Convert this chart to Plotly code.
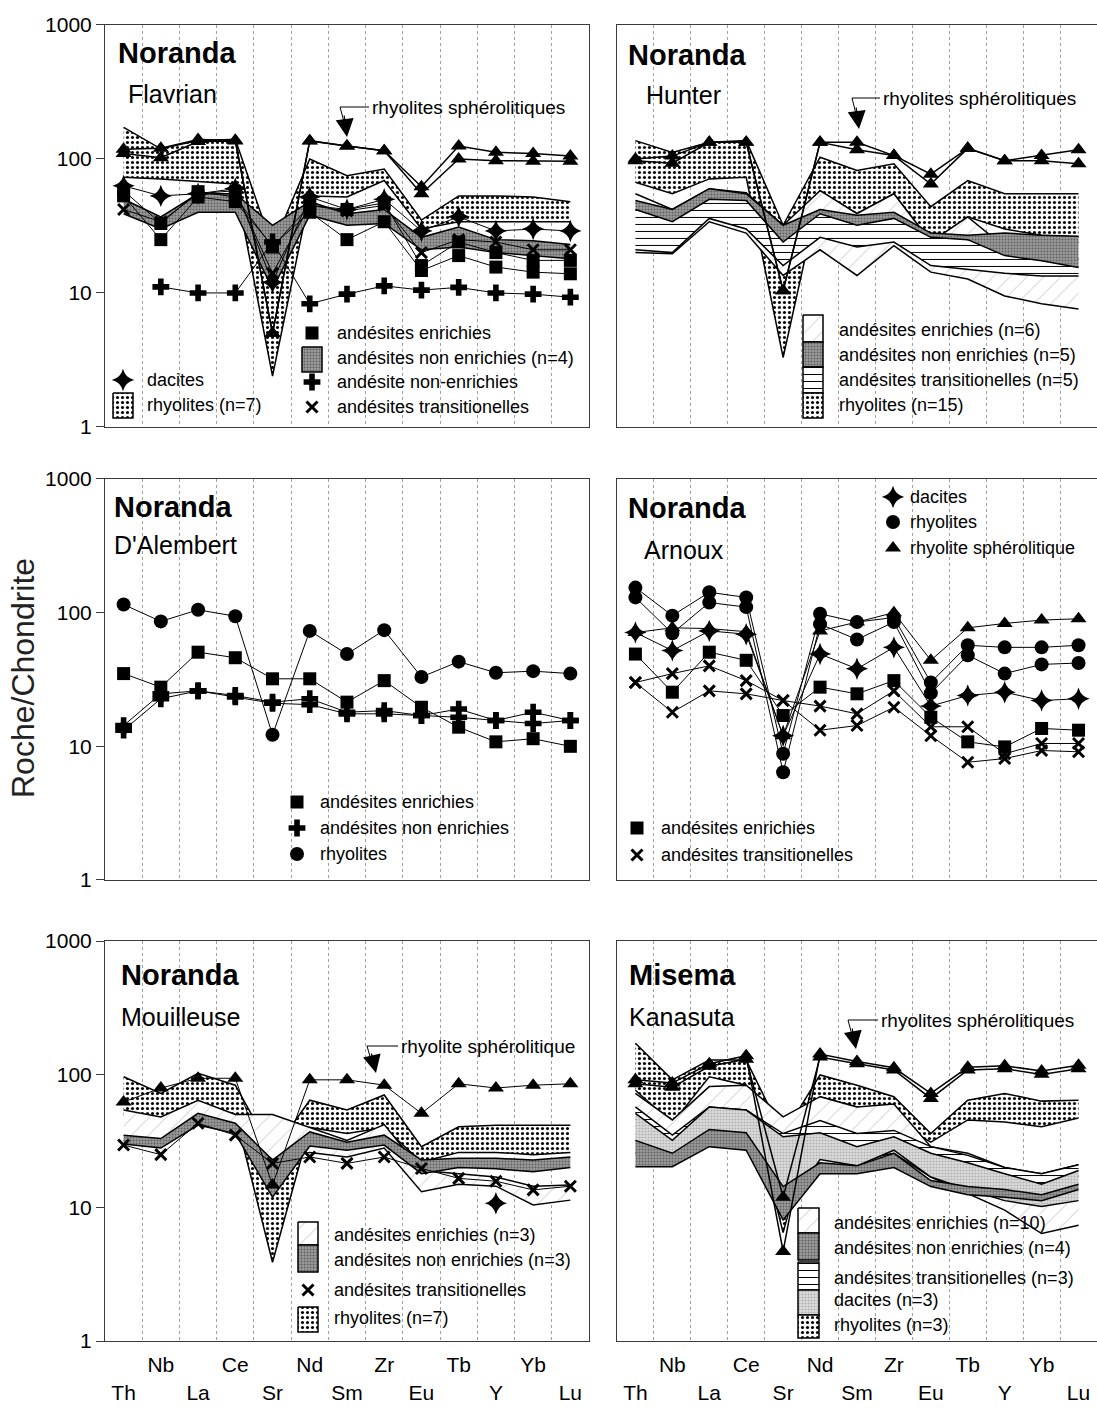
import plotly.graph_objects as go

# ---------------------------------------------------------------- data
ELEMENTS = ["Th", "Nb", "La", "Ce", "Sr", "Nd", "Sm", "Zr", "Eu", "Tb", "Y", "Yb", "Lu"]
ELEMENT_LABELS = ["\u00a0<br>Th", "Nb", "\u00a0<br>La", "Ce", "\u00a0<br>Sr", "Nd", "\u00a0<br>Sm",
                  "Zr", "\u00a0<br>Eu", "Tb", "\u00a0<br>Y", "Yb", "\u00a0<br>Lu"]
Y_TICKS = [1, 10, 100, 1000]
Y_TICK_TEXT = ["1", "10", "100", "1000"]

# Noranda - Flavrian
FLA_SPHER_A = [118, 120, 140, 138, 5, 137, 125, 115, 62, 125, 112, 110, 105]
FLA_SPHER_B = [110, 102, 135, 136, 5, 136, 125, 115, 55, 100, 97, 96, 96]
FLA_RHY_UP = [172, 119, 137, 140, 22, 100, 75, 84, 35, 53, 53, 52, 48]
FLA_RHY_LO = [73, 71, 68, 65, 2.4, 53, 52, 69, 30, 34, 34, 34, 34]
FLA_NONENR_UP = [50, 37, 55, 55, 32, 48, 39, 42, 26, 31, 25, 24.5, 23]
FLA_NONENR_LO = [39, 30, 40, 40, 10.7, 38, 32, 33, 21, 22, 20, 19, 18]
FLA_DACITE = [63, 53, 55, 60, 12, 52, 42, 50, 29, 37, 29, 30, 29]
FLA_ENR_A = [53, 25, 52, 48, 22.5, 40, 25, 34, 14.7, 19, 15.6, 14.3, 13.9]
FLA_ENR_B = [58, 33, 57, 52, 22, 45, 42, 47, 16, 24, 20, 17.5, 17.5]
FLA_NONENR_1 = [None, 11.1, 10, 10, 24, 8.3, 9.8, 11.3, 10.5, 11, 10, 9.8, 9.3]
FLA_TRANS = [42, 34, 55, 58, 14, 45, 41, 45, 20, 25, 24, 21, 21]

# Noranda - Hunter
HUN_SPHER_A = [100, 105, 133, 133, 10.4, 133, 133, 106, 65, 120, 97, 106, 117]
HUN_SPHER_B = [97, 93, 133, 133, 10.4, 133, 117, 106, 77, 120, 97, 97, 92]
HUN_RHY_UP = [137, 112, 133, 137, 32, 103, 82, 92, 44, 69, 55, 55, 55]
HUN_RHY_LO = [67, 55, 71, 73, 3.3, 58, 39, 55, 24, 37, 30, 27, 26]
HUN_NONENR_UP = [49, 42, 60, 55, 32, 42, 38, 40, 28, 27, 28, 27, 26.5]
HUN_NONENR_LO = [42, 34, 50, 49, 24, 39, 32, 36, 26, 25, 19, 17.4, 15.5]
HUN_TRANS_UP = [47, 36, 55, 50, 30, 42, 36, 38, 27, 25, 20, 18, 18]
HUN_TRANS_LO = [21, 20, 36, 30, 16, 26, 22, 24, 16, 15, 14, 13.4, 13.4]
HUN_ENR_UP = [55, 42, 60, 56, 32, 58, 39, 55, 24, 37, 22, 21, 24]
HUN_ENR_LO = [20, 19.6, 34, 28, 13.5, 21, 13.5, 22.5, 14.3, 12.7, 9.5, 8.3, 7.6]

# Noranda - D'Alembert
DAL_RHY = [115, 86, 105, 94, 12.2, 73, 49, 74, 33, 43, 35.5, 36.5, 35]
DAL_ENR = [35, 27.7, 50.6, 46, 32, 32, 21.4, 31, 19.6, 13.9, 10.8, 11.4, 10]
DAL_NONENR_A = [14.3, 24.7, 26, 24, 21.4, 22.7, 18, 18.5, 17, 19, 15.6, 18, 15.6]
DAL_NONENR_B = [13.2, 22.7, 26, 23.4, 21, 20.5, 17.5, 17.5, 17, 16.5, 15.6, 14.8, 15.6]

# Noranda - Arnoux
ARN_RHY_A = [154, 95, 142, 130, 8.8, 98, 85, 92, 30, 57, 55, 55, 57]
ARN_RHY_B = [130, 70, 119, 110, 6.4, 82, 63, 85, 25, 48, 35, 41, 42]
ARN_SPHER = [71, 77, 76, 72, 12, 73, 85, 100, 44, 77, 83, 88, 90]
ARN_DACITE = [71, 52, 73, 69, 12, 49, 38, 55, 20, 24, 25.4, 22, 22.7]
ARN_ENR = [49, 25.4, 50.6, 44, 17, 27.7, 24.7, 31, 16.5, 10.8, 9.9, 13.6, 13.2]
ARN_TRANS_A = [30, 35, 40, 31, 22, 20, 17.5, 26, 14, 14, 8.8, 10.5, 10.5]
ARN_TRANS_B = [30, 18, 26, 24.7, 22, 13.2, 14.3, 19.6, 12, 7.6, 8.1, 9.3, 9.1]

# Noranda - Mouilleuse
MOU_SPHER = [62, 79, 93.5, 93.5, 14.8, 91, 91, 83, 51, 85, 79, 83, 85]
MOU_RHY_UP = [96, 72, 102, 83, 26, 64, 54, 70, 28.7, 40.5, 41.5, 41.5, 41.5]
MOU_RHY_LO = [50, 35, 60, 50, 3.9, 40, 36, 40, 22, 26, 26, 25, 26]
MOU_NONENR_UP = [35, 33, 51, 43, 22.8, 37, 31, 35, 22.8, 23.5, 23.5, 22.8, 24]
MOU_NONENR_LO = [30, 28, 41.7, 36, 12, 29, 27, 29.5, 18, 20, 19.6, 18.6, 20]
MOU_ENR_UP = [54, 48, 64, 50, 50, 40, 32, 42, 19, 18, 17, 14.5, 14.8]
MOU_ENR_LO = [32, 30, 44, 38, 23, 26, 24, 28, 13.2, 15, 14.5, 10.5, 11.4]
MOU_TRANS = [29.5, 25, 43, 35, 21.5, 24, 21.5, 24, 19.7, 16.6, 15.8, 13.6, 14.5]
MOU_DACITE = [None, None, None, None, None, None, None, None, None, None, 10.8, None, None]

# Misema - Kanasuta
KAN_SPHER_A = [91, 86, 120, 138, 4.7, 142, 125, 112, 72, 113, 116, 106, 117]
KAN_SPHER_B = [85, 80, 115, 130, 12, 135, 120, 108, 66, 108, 110, 100, 110]
KAN_RHY_UP = [171, 91, 128, 128, 35, 99, 83, 68, 36, 64, 72, 63, 64]
KAN_RHY_LO = [76, 43, 96, 83, 6.5, 68, 57, 45, 31, 45.5, 44, 40.5, 47]
KAN_ENR_UP = [72, 45.5, 81, 83, 48, 68, 57, 60, 28.7, 25.6, 20, 18, 21]
KAN_ENR_LO = [34, 27, 40.5, 38.6, 9.6, 28.7, 22.8, 25.6, 17, 12.8, 9.6, 6.4, 7.4]
KAN_TRANS_UP = [57, 35, 57, 54, 36, 45, 36, 38, 28.7, 24.7, 20, 18, 21]
KAN_TRANS_LO = [32, 27, 45.5, 43, 18, 28.7, 25.6, 28.7, 21, 18, 17, 15, 17]
KAN_DAC_UP = [51, 32, 57, 54, 34, 36.5, 28.7, 34, 25.6, 21.7, 18, 15, 19]
KAN_DAC_LO = [25.6, 23, 36.5, 34, 9.2, 23, 20.6, 27, 17, 13.7, 11.3, 10.2, 11.3]
KAN_NONENR_UP = [32, 25.6, 38.6, 36.5, 14.4, 21.7, 20.6, 25.6, 16, 14.4, 13.7, 12.5, 15]
KAN_NONENR_LO = [20.3, 20.3, 28.7, 27, 8.1, 18, 18, 20, 14.4, 12.5, 12, 11.3, 13.7]

# ---------------------------------------------------------------- styles
FONT = "Liberation Sans, Arial, Helvetica, sans-serif"
GRID = "#a0a0a0"
BOX = "#3a3a3a"

STYLE_RHY = dict(fillcolor="white",
                 fillpattern=dict(shape=".", fgcolor="black", bgcolor="white", size=5, solidity=0.3))
STYLE_NONENR = dict(fillcolor="#8a8a8a",
                    fillpattern=dict(shape=".", fgcolor="#5e5e5e", bgcolor="#9c9c9c", size=3, solidity=0.35))
STYLE_ENR = dict(fillcolor="white",
                 fillpattern=dict(shape="/", fgcolor="#c4c4c4", bgcolor="white", size=12, solidity=0.08))
STYLE_TRANS = dict(fillcolor="white",
                   fillpattern=dict(shape="-", fgcolor="black", bgcolor="white", size=7, solidity=0.15))
STYLE_DAC = dict(fillcolor="#d8d8d8",
                 fillpattern=dict(shape=".", fgcolor="#b0b0b0", bgcolor="#dedede", size=3, solidity=0.4))

MARKERS = {
    "tri": dict(symbol="triangle-up", size=14),
    "sq": dict(symbol="square", size=13),
    "circ": dict(symbol="circle", size=14),
    "plus": dict(symbol="cross", size=14),
    "x": dict(symbol="x-thin", size=11, line=dict(width=3, color="black")),
    "star": dict(symbol="star-diamond", size=16),
}

fig = go.Figure()


def axes(i):
    s = "" if i == 1 else str(i)
    return "x" + s, "y" + s


def add_line(panel, values, marker, width=1.0):
    xa, ya = axes(panel)
    m = dict(color="black", **MARKERS[marker])
    fig.add_trace(go.Scatter(x=ELEMENTS, y=values, mode="lines+markers",
                             line=dict(color="black", width=width), marker=m,
                             xaxis=xa, yaxis=ya, showlegend=False, hoverinfo="skip"))


def add_band(panel, lower, upper, style):
    xa, ya = axes(panel)
    fig.add_trace(go.Scatter(x=ELEMENTS, y=lower, mode="lines",
                             line=dict(color="black", width=1.5),
                             xaxis=xa, yaxis=ya, showlegend=False, hoverinfo="skip"))
    fig.add_trace(go.Scatter(x=ELEMENTS, y=upper, mode="lines", fill="tonexty",
                             line=dict(color="black", width=1.5),
                             xaxis=xa, yaxis=ya, showlegend=False, hoverinfo="skip", **style))


# Panel 1: Flavrian
add_band(1, FLA_RHY_LO, FLA_RHY_UP, STYLE_RHY)
add_band(1, FLA_NONENR_LO, FLA_NONENR_UP, STYLE_NONENR)
add_line(1, FLA_NONENR_1, "plus")
add_line(1, FLA_ENR_B, "sq")
add_line(1, FLA_ENR_A, "sq")
add_line(1, FLA_TRANS, "x")
add_line(1, FLA_DACITE, "star")
add_line(1, FLA_SPHER_B, "tri", 1.5)
add_line(1, FLA_SPHER_A, "tri", 1.5)

# Panel 2: Hunter
add_band(2, HUN_RHY_LO, HUN_RHY_UP, STYLE_RHY)
add_band(2, HUN_ENR_LO, HUN_ENR_UP, STYLE_ENR)
add_band(2, HUN_TRANS_LO, HUN_TRANS_UP, STYLE_TRANS)
add_band(2, HUN_NONENR_LO, HUN_NONENR_UP, STYLE_NONENR)
add_line(2, HUN_SPHER_B, "tri", 1.5)
add_line(2, HUN_SPHER_A, "tri", 1.5)

# Panel 3: D'Alembert
add_line(3, DAL_NONENR_B, "plus")
add_line(3, DAL_NONENR_A, "plus")
add_line(3, DAL_ENR, "sq")
add_line(3, DAL_RHY, "circ")

# Panel 4: Arnoux
add_line(4, ARN_TRANS_B, "x")
add_line(4, ARN_TRANS_A, "x")
add_line(4, ARN_ENR, "sq")
add_line(4, ARN_DACITE, "star")
add_line(4, ARN_SPHER, "tri")
add_line(4, ARN_RHY_B, "circ")
add_line(4, ARN_RHY_A, "circ")

# Panel 5: Mouilleuse
add_band(5, MOU_RHY_LO, MOU_RHY_UP, STYLE_RHY)
add_band(5, MOU_ENR_LO, MOU_ENR_UP, STYLE_ENR)
add_band(5, MOU_NONENR_LO, MOU_NONENR_UP, STYLE_NONENR)
add_line(5, MOU_TRANS, "x")
add_line(5, MOU_DACITE, "star")
add_line(5, MOU_SPHER, "tri")

# Panel 6: Kanasuta
add_band(6, KAN_RHY_LO, KAN_RHY_UP, STYLE_RHY)
add_band(6, KAN_ENR_LO, KAN_ENR_UP, STYLE_ENR)
add_band(6, KAN_TRANS_LO, KAN_TRANS_UP, STYLE_TRANS)
add_band(6, KAN_DAC_LO, KAN_DAC_UP, STYLE_DAC)
add_band(6, KAN_NONENR_LO, KAN_NONENR_UP, STYLE_NONENR)
add_line(6, KAN_SPHER_B, "tri", 1.5)
add_line(6, KAN_SPHER_A, "tri", 1.5)

# ---------------------------------------------------------------- layout
W, H = 1097, 1410
X_DOM = {"L": [0.0957, 0.5369], "R": [0.5624, 1.0]}
Y_DOM = {1: [0.6972, 0.9823], 2: [0.3759, 0.6603], 3: [0.0489, 0.3326]}
PANEL_GRID = {1: ("L", 1), 2: ("R", 1), 3: ("L", 2), 4: ("R", 2), 5: ("L", 3), 6: ("R", 3)}

layout = dict(width=W, height=H, template="none", paper_bgcolor="white",
              plot_bgcolor="rgba(0,0,0,0)", margin=dict(l=0, r=0, t=0, b=0),
              showlegend=False, hovermode=False)

for i, (col, row) in PANEL_GRID.items():
    s = "" if i == 1 else str(i)
    layout["xaxis" + s] = dict(
        domain=X_DOM[col], anchor="y" + s, type="category", categoryorder="array",
        categoryarray=ELEMENTS, range=[-0.5, 12.5], tickmode="array", tickvals=ELEMENTS,
        ticktext=ELEMENT_LABELS, tickson="boundaries", ticks="", showgrid=True,
        gridcolor=GRID, griddash="dot", gridwidth=1, showline=True, mirror=True,
        linecolor=BOX, linewidth=1, zeroline=False, automargin=False, fixedrange=True,
        showticklabels=(row == 3), ticklabelstandoff=5, tickangle=0,
        tickfont=dict(family=FONT, size=21, color="black"))
    layout["yaxis" + s] = dict(
        domain=Y_DOM[row], anchor="x" + s, type="log", range=[0, 3], tickmode="array",
        tickvals=Y_TICKS, ticktext=Y_TICK_TEXT, showticklabels=(col == "L"),
        ticks="outside" if col == "L" else "", ticklen=8, tickcolor=BOX, tickwidth=1,
        showgrid=False, showline=True, mirror=True, linecolor=BOX, linewidth=1,
        zeroline=False, automargin=False, fixedrange=True,
        tickfont=dict(family=FONT, size=21, color="black"))

# overlay axis measured in page pixels, used for legends / labels / arrows
layout["xaxis7"] = dict(domain=[0, 1], range=[0, W], visible=False, anchor="y7",
                        fixedrange=True, automargin=False)
layout["yaxis7"] = dict(domain=[0, 1], range=[H, 0], visible=False, anchor="x7",
                        fixedrange=True, automargin=False)
fig.update_layout(**layout)

annotations = []


def px_text(x, y, text, size=18, bold=False):
    t = "<b>%s</b>" % text if bold else text
    annotations.append(dict(x=x, y=y, xref="x7", yref="y7", text=t, showarrow=False,
                            xanchor="left", yanchor="middle",
                            font=dict(family=FONT, size=size, color="black")))


def px_marker(x, y, marker):
    m = dict(color="black", **MARKERS[marker])
    fig.add_trace(go.Scatter(x=[x], y=[y], mode="markers", marker=m, xaxis="x7",
                             yaxis="y7", showlegend=False, hoverinfo="skip"))


def px_swatch(x0, y0, x1, y1, style):
    fig.add_trace(go.Scatter(x=[x0, x1, x1, x0, x0], y=[y0, y0, y1, y1, y0], mode="lines",
                             fill="toself", line=dict(color="black", width=1.5),
                             xaxis="x7", yaxis="y7", showlegend=False, hoverinfo="skip",
                             **style))


def px_callout(text, tx, ty, corner_x, shaft_y, tip_x, tip_y):
    fig.add_trace(go.Scatter(x=[tx, corner_x, corner_x + 4], y=[ty, ty, shaft_y],
                             mode="lines", line=dict(color="black", width=1),
                             xaxis="x7", yaxis="y7", showlegend=False, hoverinfo="skip"))
    annotations.append(dict(x=tip_x, y=tip_y, xref="x7", yref="y7", ax=corner_x + 4,
                            ay=shaft_y - 8, axref="x7", ayref="y7", text="", showarrow=True,
                            arrowhead=2, arrowsize=3, arrowwidth=1.2, arrowcolor="black"))
    px_text(tx + 1, ty, text, 19)


# panel titles
TITLES = [
    ("Noranda", "Flavrian", 116, 53, 126, 94),
    ("Noranda", "Hunter", 626, 55, 644, 95),
    ("Noranda", "D'Alembert", 112, 507, 112, 545),
    ("Noranda", "Arnoux", 626, 508, 642, 550),
    ("Noranda", "Mouilleuse", 119, 975, 119, 1017),
    ("Misema", "Kanasuta", 627, 975, 627, 1017),
]
for big, small, bx, by, sx, sy in TITLES:
    px_text(bx, by, big, 29, bold=True)
    px_text(sx, sy, small, 25)

# callouts "rhyolites sphérolitiques"
px_callout("rhyolites sphérolitiques", 369, 107, 340, 122, 347, 137)
px_callout("rhyolites sphérolitiques", 880, 98, 852, 114, 859, 129)
px_callout("rhyolite sphérolitique", 398, 1046, 367, 1060, 376, 1073)
px_callout("rhyolites sphérolitiques", 878, 1020, 848, 1035, 856, 1049)

# legends (marker / swatch, then text)
LEG_MARKERS = [
    (123, 380, "star", "dacites", 145),
    (312, 333, "sq", "andésites enrichies", 335),
    (312, 382, "plus", "andésite non-enrichies", 335),
    (312, 407, "x", "andésites transitionelles", 335),
    (297, 802, "sq", "andésites enrichies", 318),
    (297, 828, "plus", "andésites non enrichies", 318),
    (297, 854, "circ", "rhyolites", 318),
    (893, 497, "star", "dacites", 908),
    (893, 522, "circ", "rhyolites", 908),
    (893, 548, "tri", "rhyolite sphérolitique", 908),
    (637, 828, "sq", "andésites enrichies", 659),
    (637, 855, "x", "andésites transitionelles", 659),
    (308, 1290, "x", "andésites transitionelles", 332),
]
for mx, my, mk, label, tx in LEG_MARKERS:
    px_marker(mx, my, mk)
    px_text(tx, my, label)

LEG_SWATCHES = [
    (113, 393, 133, 418, STYLE_RHY, "rhyolites (n=7)", 145, 405),
    (302, 347, 322, 372, STYLE_NONENR, "andésites non enrichies (n=4)", 335, 358),
    (803, 315, 823, 342, STYLE_ENR, "andésites enrichies (n=6)", 837, 330),
    (803, 342, 823, 367, STYLE_NONENR, "andésites non enrichies (n=5)", 837, 355),
    (803, 367, 823, 393, STYLE_TRANS, "andésites transitionelles (n=5)", 837, 380),
    (803, 393, 823, 418, STYLE_RHY, "rhyolites (n=15)", 837, 405),
    (298, 1222, 318, 1245, STYLE_ENR, "andésites enrichies (n=3)", 332, 1235),
    (298, 1245, 318, 1272, STYLE_NONENR, "andésites non enrichies (n=3)", 332, 1260),
    (298, 1307, 318, 1332, STYLE_RHY, "rhyolites (n=7)", 332, 1318),
    (798, 1208, 819, 1233, STYLE_ENR, "andésites enrichies (n=10)", 832, 1223),
    (798, 1233, 819, 1260, STYLE_NONENR, "andésites non enrichies (n=4)", 832, 1248),
    (798, 1262, 819, 1290, STYLE_TRANS, "andésites transitionelles (n=3)", 832, 1278),
    (798, 1290, 819, 1315, STYLE_DAC, "dacites (n=3)", 832, 1300),
    (798, 1315, 819, 1338, STYLE_RHY, "rhyolites (n=3)", 832, 1325),
]
for x0, y0, x1, y1, st, label, tx, ty in LEG_SWATCHES:
    px_swatch(x0, y0, x1, y1, st)
    px_text(tx, ty, label)

# y axis title
annotations.append(dict(x=23, y=678, xref="x7", yref="y7", text="Roche/Chondrite",
                        showarrow=False, textangle=-90, xanchor="center", yanchor="middle",
                        font=dict(family=FONT, size=32, color="#222")))

fig.update_layout(annotations=annotations)
fig.write_html("out.html")
